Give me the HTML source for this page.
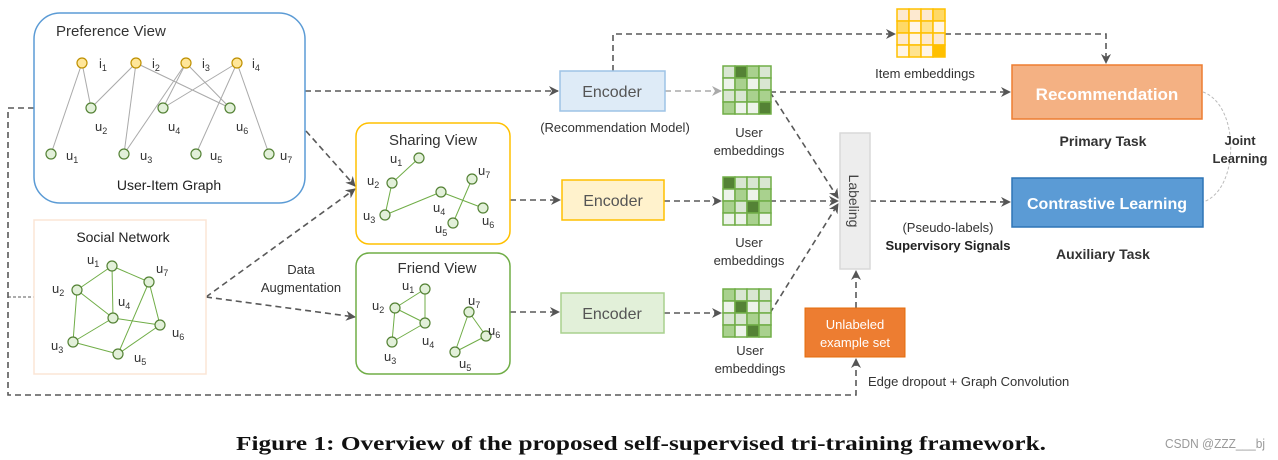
<!DOCTYPE html>
<html><head><meta charset="utf-8"><style>
html,body{margin:0;padding:0;background:#fff;}
svg{display:block;font-family:"Liberation Sans",sans-serif;}
</style></head><body>
<svg width="1278" height="460" viewBox="0 0 1278 460" xmlns="http://www.w3.org/2000/svg">
<defs>
<marker id="ar" markerWidth="10" markerHeight="10" refX="9" refY="5" orient="auto" markerUnits="userSpaceOnUse"><path d="M0,0 L10,5 L0,10 L3,5 Z" fill="#555"/></marker>
<marker id="arg" markerWidth="10" markerHeight="10" refX="9" refY="5" orient="auto" markerUnits="userSpaceOnUse"><path d="M0,0 L10,5 L0,10 L3,5 Z" fill="#aaa"/></marker>
</defs>
<rect width="1278" height="460" fill="#fff"/>

<g fill="none" stroke="#595959" stroke-width="1.6" stroke-dasharray="6,4">
<path d="M305,91 L558,91" marker-end="url(#ar)"/>
<path d="M34,108 L8,108 L8,395 L856,395 L856,359" marker-end="url(#ar)"/>
<path d="M306,131 L355,186" marker-end="url(#ar)"/>
<path d="M206,297 L355,189" marker-end="url(#ar)"/>
<path d="M206,297 L355,317" marker-end="url(#ar)"/>
<path d="M613,71 L613,34 L895,34" marker-end="url(#ar)"/>
<path d="M945,34 L1106,34 L1106,63" marker-end="url(#ar)"/>
<path d="M770,92 L1010,92" marker-end="url(#ar)"/>
<path d="M770,92 L838,198" marker-end="url(#ar)"/>
<path d="M510,200 L560,200" marker-end="url(#ar)"/>
<path d="M664,201 L721,201" marker-end="url(#ar)"/>
<path d="M770,201 L838,201" marker-end="url(#ar)"/>
<path d="M510,312 L559,312" marker-end="url(#ar)"/>
<path d="M664,313 L721,313" marker-end="url(#ar)"/>
<path d="M770,313 L838,204" marker-end="url(#ar)"/>
<path d="M870,201 L1010,202" marker-end="url(#ar)"/>
<path d="M856,308 L856,271" marker-end="url(#ar)"/>
</g>
<path d="M665,91 L721,91" stroke="#aaa" stroke-width="1.6" stroke-dasharray="6,4" fill="none" marker-end="url(#arg)"/>
<path d="M8,297 L34,297" stroke="#595959" stroke-width="1" stroke-dasharray="3,2"/>
<path d="M1203,92 C1240,105 1240,190 1203,202" stroke="#bbb" stroke-width="1" stroke-dasharray="3,2" fill="none"/>

<rect x="34" y="13" width="271" height="190" rx="26" fill="#fff" stroke="#5b9bd5" stroke-width="1.5"/>
<text x="56" y="36" font-size="15" fill="#333">Preference View</text>
<g stroke="#aaa" stroke-width="1">
<line x1="82" y1="63" x2="91" y2="108"/><line x1="82" y1="63" x2="51" y2="154"/>
<line x1="136" y1="63" x2="91" y2="108"/><line x1="136" y1="63" x2="124" y2="154"/><line x1="136" y1="63" x2="230" y2="108"/>
<line x1="186" y1="63" x2="163" y2="108"/><line x1="186" y1="63" x2="124" y2="154"/><line x1="186" y1="63" x2="230" y2="108"/>
<line x1="237" y1="63" x2="163" y2="108"/><line x1="237" y1="63" x2="196" y2="154"/><line x1="237" y1="63" x2="269" y2="154"/>
</g>
<g fill="#ffe699" stroke="#bf9000" stroke-width="1.2">
<circle cx="82" cy="63" r="5"/><circle cx="136" cy="63" r="5"/><circle cx="186" cy="63" r="5"/><circle cx="237" cy="63" r="5"/>
</g>
<g fill="#e2f0d9" stroke="#548235" stroke-width="1.2">
<circle cx="91" cy="108" r="5"/><circle cx="163" cy="108" r="5"/><circle cx="230" cy="108" r="5"/>
<circle cx="51" cy="154" r="5"/><circle cx="124" cy="154" r="5"/><circle cx="196" cy="154" r="5"/><circle cx="269" cy="154" r="5"/>
</g>
<g font-size="13" fill="#333">
<text x="99" y="68">i<tspan font-size="9" dy="3">1</tspan></text>
<text x="152" y="68">i<tspan font-size="9" dy="3">2</tspan></text>
<text x="202" y="68">i<tspan font-size="9" dy="3">3</tspan></text>
<text x="252" y="68">i<tspan font-size="9" dy="3">4</tspan></text>
<text x="95" y="131">u<tspan font-size="9" dy="3">2</tspan></text>
<text x="168" y="131">u<tspan font-size="9" dy="3">4</tspan></text>
<text x="236" y="131">u<tspan font-size="9" dy="3">6</tspan></text>
<text x="66" y="160">u<tspan font-size="9" dy="3">1</tspan></text>
<text x="140" y="160">u<tspan font-size="9" dy="3">3</tspan></text>
<text x="210" y="160">u<tspan font-size="9" dy="3">5</tspan></text>
<text x="280" y="160">u<tspan font-size="9" dy="3">7</tspan></text>
</g>
<text x="169" y="190" font-size="14" fill="#222" text-anchor="middle">User-Item Graph</text>

<rect x="34" y="220" width="172" height="154" fill="#fff" stroke="#fbe5d6" stroke-width="1.5"/>
<text x="123" y="242" font-size="14" fill="#222" text-anchor="middle">Social Network</text>
<g stroke="#70ad47" stroke-width="1">
<line x1="112" y1="266" x2="77" y2="290"/><line x1="112" y1="266" x2="113" y2="318"/><line x1="112" y1="266" x2="149" y2="282"/>
<line x1="77" y1="290" x2="113" y2="318"/><line x1="77" y1="290" x2="73" y2="342"/><line x1="73" y1="342" x2="113" y2="318"/>
<line x1="73" y1="342" x2="118" y2="354"/><line x1="113" y1="318" x2="160" y2="325"/><line x1="149" y1="282" x2="160" y2="325"/>
<line x1="149" y1="282" x2="118" y2="354"/><line x1="118" y1="354" x2="160" y2="325"/>
</g>
<g fill="#e2f0d9" stroke="#548235" stroke-width="1.2">
<circle cx="112" cy="266" r="5"/><circle cx="149" cy="282" r="5"/><circle cx="77" cy="290" r="5"/><circle cx="113" cy="318" r="5"/>
<circle cx="160" cy="325" r="5"/><circle cx="73" cy="342" r="5"/><circle cx="118" cy="354" r="5"/>
</g>
<g font-size="13" fill="#333">
<text x="87" y="264">u<tspan font-size="9" dy="3">1</tspan></text>
<text x="156" y="273">u<tspan font-size="9" dy="3">7</tspan></text>
<text x="52" y="293">u<tspan font-size="9" dy="3">2</tspan></text>
<text x="118" y="306">u<tspan font-size="9" dy="3">4</tspan></text>
<text x="172" y="337">u<tspan font-size="9" dy="3">6</tspan></text>
<text x="51" y="350">u<tspan font-size="9" dy="3">3</tspan></text>
<text x="134" y="362">u<tspan font-size="9" dy="3">5</tspan></text>
</g>
<text x="301" y="274" font-size="13" fill="#333" text-anchor="middle">Data</text>
<text x="301" y="292" font-size="13" fill="#333" text-anchor="middle">Augmentation</text>

<rect x="356" y="123" width="154" height="121" rx="13" fill="#fff" stroke="#ffc000" stroke-width="1.5"/>
<text x="433" y="145" font-size="15" fill="#333" text-anchor="middle">Sharing View</text>
<g stroke="#70ad47" stroke-width="1">
<line x1="419" y1="158" x2="392" y2="183"/><line x1="392" y1="183" x2="385" y2="215"/><line x1="385" y1="215" x2="441" y2="192"/>
<line x1="441" y1="192" x2="483" y2="208"/><line x1="472" y1="179" x2="453" y2="223"/>
</g>
<g fill="#e2f0d9" stroke="#548235" stroke-width="1.2">
<circle cx="419" cy="158" r="5"/><circle cx="392" cy="183" r="5"/><circle cx="472" cy="179" r="5"/><circle cx="441" cy="192" r="5"/>
<circle cx="483" cy="208" r="5"/><circle cx="385" cy="215" r="5"/><circle cx="453" cy="223" r="5"/>
</g>
<g font-size="13" fill="#333">
<text x="390" y="163">u<tspan font-size="9" dy="3">1</tspan></text>
<text x="367" y="185">u<tspan font-size="9" dy="3">2</tspan></text>
<text x="478" y="175">u<tspan font-size="9" dy="3">7</tspan></text>
<text x="433" y="212">u<tspan font-size="9" dy="3">4</tspan></text>
<text x="482" y="225">u<tspan font-size="9" dy="3">6</tspan></text>
<text x="363" y="220">u<tspan font-size="9" dy="3">3</tspan></text>
<text x="435" y="233">u<tspan font-size="9" dy="3">5</tspan></text>
</g>

<rect x="356" y="253" width="154" height="121" rx="13" fill="#fff" stroke="#70ad47" stroke-width="1.5"/>
<text x="437" y="273" font-size="15" fill="#333" text-anchor="middle">Friend View</text>
<g stroke="#70ad47" stroke-width="1">
<line x1="425" y1="289" x2="395" y2="308"/><line x1="425" y1="289" x2="425" y2="323"/><line x1="395" y1="308" x2="425" y2="323"/>
<line x1="395" y1="308" x2="392" y2="342"/><line x1="392" y1="342" x2="425" y2="323"/>
<line x1="469" y1="312" x2="486" y2="336"/><line x1="469" y1="312" x2="455" y2="352"/><line x1="455" y1="352" x2="486" y2="336"/>
</g>
<g fill="#e2f0d9" stroke="#548235" stroke-width="1.2">
<circle cx="425" cy="289" r="5"/><circle cx="395" cy="308" r="5"/><circle cx="425" cy="323" r="5"/><circle cx="392" cy="342" r="5"/>
<circle cx="469" cy="312" r="5"/><circle cx="486" cy="336" r="5"/><circle cx="455" cy="352" r="5"/>
</g>
<g font-size="13" fill="#333">
<text x="402" y="290">u<tspan font-size="9" dy="3">1</tspan></text>
<text x="372" y="310">u<tspan font-size="9" dy="3">2</tspan></text>
<text x="422" y="345">u<tspan font-size="9" dy="3">4</tspan></text>
<text x="384" y="361">u<tspan font-size="9" dy="3">3</tspan></text>
<text x="468" y="305">u<tspan font-size="9" dy="3">7</tspan></text>
<text x="488" y="335">u<tspan font-size="9" dy="3">6</tspan></text>
<text x="459" y="368">u<tspan font-size="9" dy="3">5</tspan></text>
</g>

<rect x="560" y="71" width="105" height="40" fill="#deebf7" stroke="#9dc3e6" stroke-width="1.5"/>
<text x="612" y="97" font-size="16" fill="#555" text-anchor="middle">Encoder</text>
<rect x="562" y="180" width="102" height="40" fill="#fff2cc" stroke="#ffc000" stroke-width="1.5"/>
<text x="613" y="206" font-size="16" fill="#555" text-anchor="middle">Encoder</text>
<rect x="561" y="293" width="103" height="40" fill="#e2f0d9" stroke="#a9d18e" stroke-width="1.5"/>
<text x="612" y="319" font-size="16" fill="#555" text-anchor="middle">Encoder</text>
<text x="615" y="132" font-size="13" fill="#333" text-anchor="middle">(Recommendation Model)</text>

<g stroke="#70ad47" stroke-width="1.5">
<g transform="translate(723,66)">
<rect x="0" y="0" width="12" height="12" fill="#d9e6d2"/><rect x="12" y="0" width="12" height="12" fill="#548235"/><rect x="24" y="0" width="12" height="12" fill="#a9d18e"/><rect x="36" y="0" width="12" height="12" fill="#d9e6d2"/>
<rect x="0" y="12" width="12" height="12" fill="#edf3ea"/><rect x="12" y="12" width="12" height="12" fill="#a9d18e"/><rect x="24" y="12" width="12" height="12" fill="#edf3ea"/><rect x="36" y="12" width="12" height="12" fill="#d9e6d2"/>
<rect x="0" y="24" width="12" height="12" fill="#d9e6d2"/><rect x="12" y="24" width="12" height="12" fill="#d9e6d2"/><rect x="24" y="24" width="12" height="12" fill="#a9d18e"/><rect x="36" y="24" width="12" height="12" fill="#a9d18e"/>
<rect x="0" y="36" width="12" height="12" fill="#a9d18e"/><rect x="12" y="36" width="12" height="12" fill="#edf3ea"/><rect x="24" y="36" width="12" height="12" fill="#edf3ea"/><rect x="36" y="36" width="12" height="12" fill="#548235"/>
</g>
<g transform="translate(723,177)">
<rect x="0" y="0" width="12" height="12" fill="#548235"/><rect x="12" y="0" width="12" height="12" fill="#d9e6d2"/><rect x="24" y="0" width="12" height="12" fill="#d9e6d2"/><rect x="36" y="0" width="12" height="12" fill="#d9e6d2"/>
<rect x="0" y="12" width="12" height="12" fill="#edf3ea"/><rect x="12" y="12" width="12" height="12" fill="#a9d18e"/><rect x="24" y="12" width="12" height="12" fill="#edf3ea"/><rect x="36" y="12" width="12" height="12" fill="#a9d18e"/>
<rect x="0" y="24" width="12" height="12" fill="#a9d18e"/><rect x="12" y="24" width="12" height="12" fill="#d9e6d2"/><rect x="24" y="24" width="12" height="12" fill="#548235"/><rect x="36" y="24" width="12" height="12" fill="#a9d18e"/>
<rect x="0" y="36" width="12" height="12" fill="#edf3ea"/><rect x="12" y="36" width="12" height="12" fill="#edf3ea"/><rect x="24" y="36" width="12" height="12" fill="#a9d18e"/><rect x="36" y="36" width="12" height="12" fill="#edf3ea"/>
</g>
<g transform="translate(723,289)">
<rect x="0" y="0" width="12" height="12" fill="#a9d18e"/><rect x="12" y="0" width="12" height="12" fill="#d9e6d2"/><rect x="24" y="0" width="12" height="12" fill="#d9e6d2"/><rect x="36" y="0" width="12" height="12" fill="#d9e6d2"/>
<rect x="0" y="12" width="12" height="12" fill="#edf3ea"/><rect x="12" y="12" width="12" height="12" fill="#548235"/><rect x="24" y="12" width="12" height="12" fill="#edf3ea"/><rect x="36" y="12" width="12" height="12" fill="#d9e6d2"/>
<rect x="0" y="24" width="12" height="12" fill="#d9e6d2"/><rect x="12" y="24" width="12" height="12" fill="#d9e6d2"/><rect x="24" y="24" width="12" height="12" fill="#a9d18e"/><rect x="36" y="24" width="12" height="12" fill="#d9e6d2"/>
<rect x="0" y="36" width="12" height="12" fill="#a9d18e"/><rect x="12" y="36" width="12" height="12" fill="#edf3ea"/><rect x="24" y="36" width="12" height="12" fill="#548235"/><rect x="36" y="36" width="12" height="12" fill="#a9d18e"/>
</g>
</g>
<g font-size="13" fill="#333" text-anchor="middle">
<text x="749" y="137">User</text><text x="749" y="155">embeddings</text>
<text x="749" y="247">User</text><text x="749" y="265">embeddings</text>
<text x="750" y="355">User</text><text x="750" y="373">embeddings</text>
</g>

<g stroke="#ffc000" stroke-width="1.5" transform="translate(897,9)">
<rect x="0" y="0" width="12" height="12" fill="#fde9d0"/><rect x="12" y="0" width="12" height="12" fill="#fde9d0"/><rect x="24" y="0" width="12" height="12" fill="#fde9d0"/><rect x="36" y="0" width="12" height="12" fill="#ffd966"/>
<rect x="0" y="12" width="12" height="12" fill="#ffd966"/><rect x="12" y="12" width="12" height="12" fill="#fff5e6"/><rect x="24" y="12" width="12" height="12" fill="#ffe38f"/><rect x="36" y="12" width="12" height="12" fill="#fff5e6"/>
<rect x="0" y="24" width="12" height="12" fill="#fde9d0"/><rect x="12" y="24" width="12" height="12" fill="#fff5e6"/><rect x="24" y="24" width="12" height="12" fill="#fde9d0"/><rect x="36" y="24" width="12" height="12" fill="#fde9d0"/>
<rect x="0" y="36" width="12" height="12" fill="#fff5e6"/><rect x="12" y="36" width="12" height="12" fill="#ffe38f"/><rect x="24" y="36" width="12" height="12" fill="#fff5e6"/><rect x="36" y="36" width="12" height="12" fill="#ffc000"/>
</g>
<text x="925" y="78" font-size="13" fill="#333" text-anchor="middle">Item embeddings</text>

<rect x="840" y="133" width="30" height="136" fill="#ededed" stroke="#d9d9d9" stroke-width="1.5"/>
<text transform="translate(849,201) rotate(90)" font-size="14" fill="#444" text-anchor="middle">Labeling</text>

<rect x="805" y="308" width="100" height="49" fill="#ed7d31" stroke="#e46c0a" stroke-width="1"/>
<text x="855" y="329" font-size="13" fill="#fff" text-anchor="middle">Unlabeled</text>
<text x="855" y="347" font-size="13" fill="#fff" text-anchor="middle">example set</text>
<text x="868" y="386" font-size="13" fill="#333">Edge dropout + Graph Convolution</text>

<text x="948" y="232" font-size="13" fill="#333" text-anchor="middle">(Pseudo-labels)</text>
<text x="948" y="250" font-size="13" fill="#222" font-weight="bold" text-anchor="middle">Supervisory Signals</text>

<rect x="1012" y="65" width="190" height="54" fill="#f4b183" stroke="#ed7d31" stroke-width="1.5"/>
<text x="1107" y="100" font-size="17" fill="#fff" font-weight="bold" text-anchor="middle">Recommendation</text>
<text x="1103" y="146" font-size="14" fill="#333" font-weight="bold" text-anchor="middle">Primary Task</text>
<rect x="1012" y="178" width="191" height="49" fill="#5b9bd5" stroke="#2e75b6" stroke-width="1.5"/>
<text x="1107" y="209" font-size="16" fill="#fff" font-weight="bold" text-anchor="middle">Contrastive Learning</text>
<text x="1103" y="259" font-size="14" fill="#333" font-weight="bold" text-anchor="middle">Auxiliary Task</text>
<text x="1240" y="145" font-size="13" fill="#333" font-weight="bold" text-anchor="middle">Joint</text>
<text x="1240" y="163" font-size="13" fill="#333" font-weight="bold" text-anchor="middle">Learning</text>

<text x="236" y="450" font-family="'Liberation Serif',serif" font-weight="bold" font-size="20" fill="#111" textLength="810" lengthAdjust="spacingAndGlyphs">Figure 1: Overview of the proposed self-supervised tri-training framework.</text>
<text x="1165" y="448" font-size="13" fill="#999" textLength="100" lengthAdjust="spacingAndGlyphs">CSDN @ZZZ___bj</text>
</svg>
</body></html>
